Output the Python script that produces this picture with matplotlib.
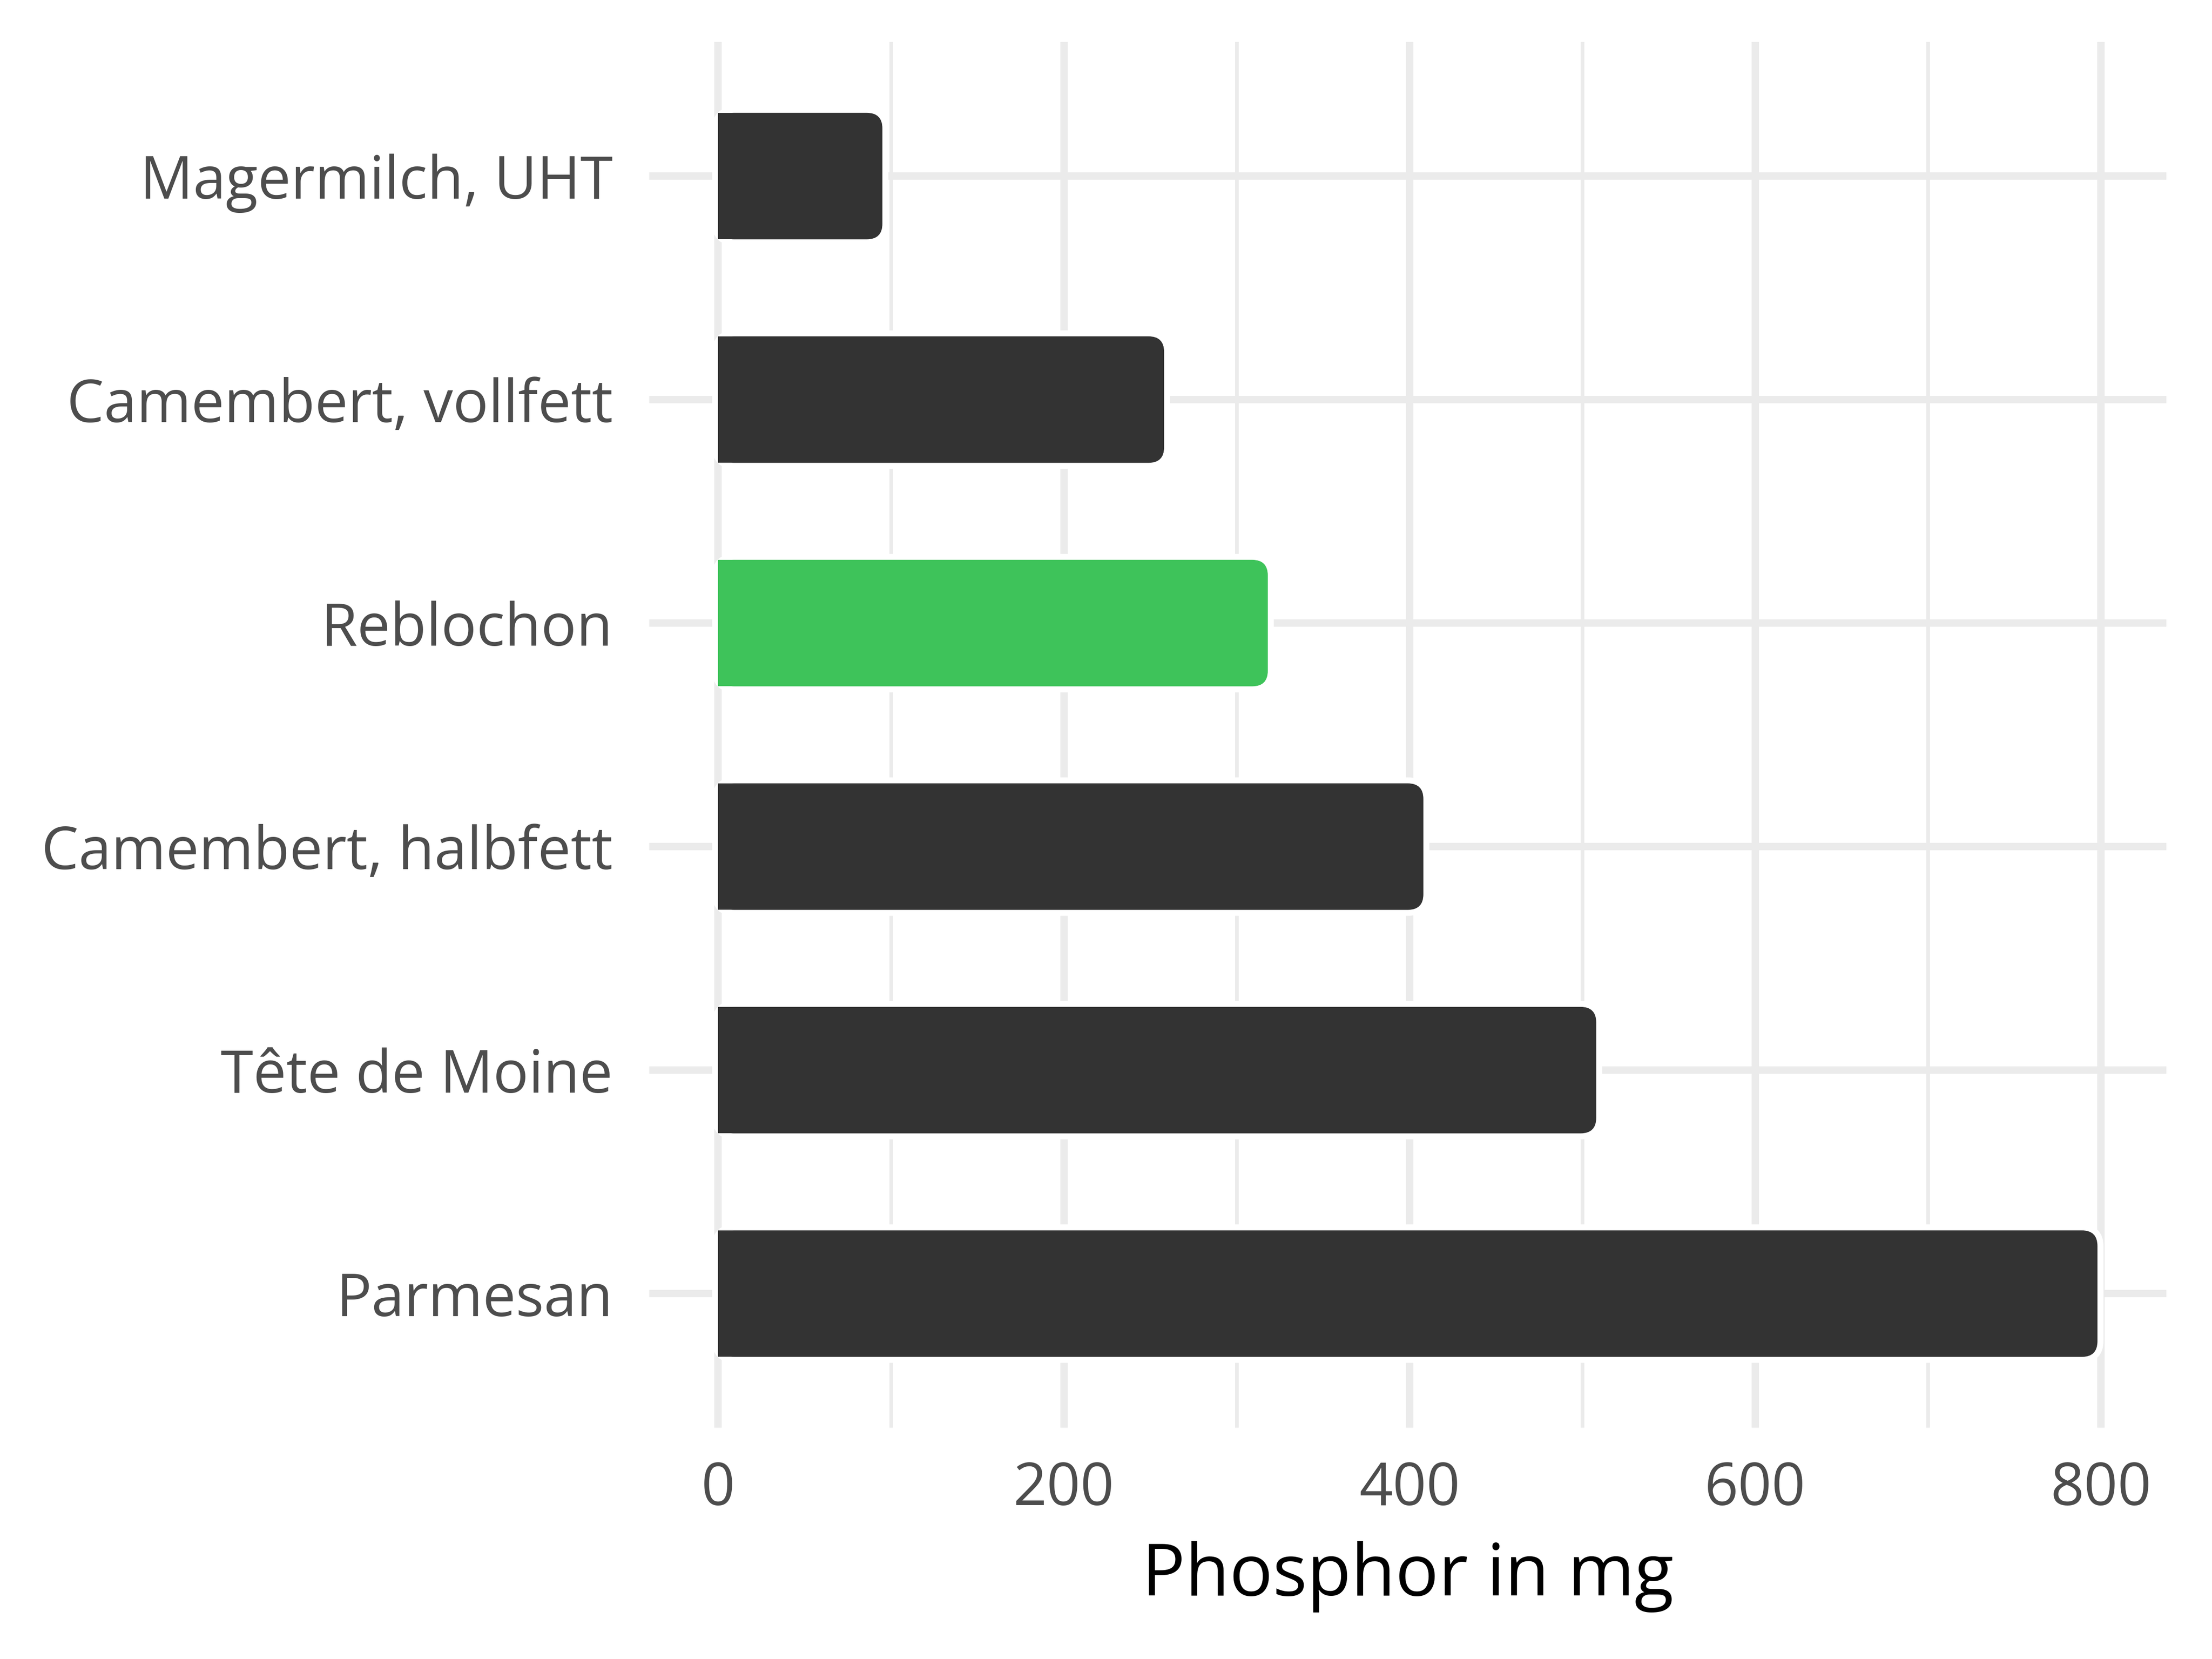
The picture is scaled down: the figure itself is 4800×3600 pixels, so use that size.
import matplotlib
matplotlib.use("Agg")
import matplotlib.pyplot as plt
from matplotlib.patches import FancyBboxPatch, Rectangle
from matplotlib.ticker import MultipleLocator

plt.rcParams['font.family'] = ['Open Sans', 'DejaVu Sans']

# Data (top to bottom as displayed)
categories = ["Magermilch, UHT", "Camembert, vollfett", "Reblochon",
              "Camembert, halbfett", "Tête de Moine", "Parmesan"]
values = [95, 258, 318, 408, 508, 798]
highlight = "Reblochon"

DARK = "#333333"
GREEN = "#3EC35A"
GRID = "#EBEBEB"

W, H, DPI = 16, 12, 300
fig = plt.figure(figsize=(W, H), dpi=DPI)
ax = fig.add_axes([0.2935, 0.1394, 0.9794 - 0.2935, 0.9747 - 0.1394])

n = len(categories)
ypos = [n - i for i in range(n)]
vmax = max(values)
xlim = (-0.05 * vmax, 1.05 * vmax)
ylim = (0.4, n + 0.6)
ax.set_xlim(*xlim)
ax.set_ylim(*ylim)

# pixel scales
ax_w_px = (0.9794 - 0.2935) * W * DPI
ax_h_px = (0.9747 - 0.1394) * H * DPI
px_x = ax_w_px / (xlim[1] - xlim[0])   # px per x unit
px_y = ax_h_px / (ylim[1] - ylim[0])   # px per y unit

radius_px = 34
r_x = radius_px / px_x
aspect = px_x / px_y
bar_h = 0.566
outline_pt = 26 * 72 / DPI

for cat, v, y in zip(categories, values, ypos):
    col = GREEN if cat == highlight else DARK
    y0 = y - bar_h / 2
    # white outline underlay
    ax.add_patch(FancyBboxPatch((0, y0), v, bar_h,
                                boxstyle=f"round,pad=0,rounding_size={r_x}",
                                mutation_aspect=aspect,
                                facecolor="white", edgecolor="white",
                                linewidth=outline_pt, zorder=3))
    ax.add_patch(FancyBboxPatch((0, y0), v, bar_h,
                                boxstyle=f"round,pad=0,rounding_size={r_x}",
                                mutation_aspect=aspect,
                                facecolor=col, edgecolor="none",
                                linewidth=0, zorder=4))
    ax.add_patch(Rectangle((0, y0), v / 2, bar_h, facecolor=col,
                           edgecolor="none", linewidth=0, zorder=4))

ax.set_yticks(ypos)
ax.set_yticklabels(categories)
ax.xaxis.set_major_locator(MultipleLocator(200))
ax.xaxis.set_minor_locator(MultipleLocator(100))

major_lw = 16 * 72 / DPI
minor_lw = 8 * 72 / DPI
ax.grid(True, which="major", axis="both", color=GRID, linewidth=major_lw, zorder=0)
ax.grid(True, which="minor", axis="x", color=GRID, linewidth=minor_lw, zorder=0)
ax.set_axisbelow(True)

for s in ax.spines.values():
    s.set_visible(False)
ax.tick_params(axis="both", which="both", length=0)
ax.tick_params(axis="y", pad=19, labelsize=30.7, labelcolor="#4D4D4D")
ax.tick_params(axis="x", pad=17, labelsize=30.7, labelcolor="#4D4D4D")

ax.set_xlabel("Phosphor in mg", fontsize=37.5, color="black", labelpad=11)

fig.savefig("out.png", dpi=DPI, facecolor="white")
